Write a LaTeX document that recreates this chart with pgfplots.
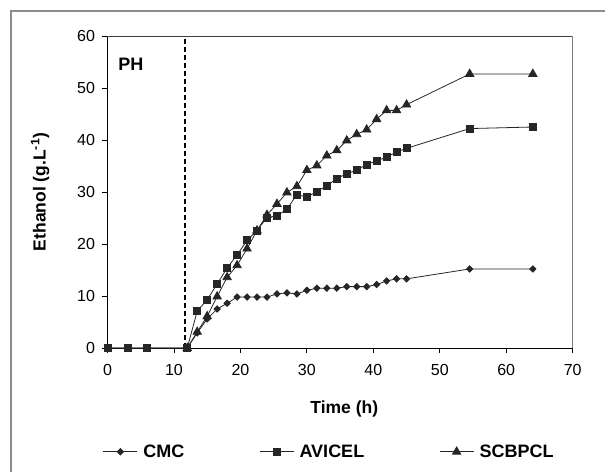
\documentclass[border=0pt]{standalone}
\usepackage{fontspec}
\setmainfont{Liberation Sans}
\usepackage{pgfplots}
\usepackage{pgfplotstable}
\pgfplotsset{compat=1.18}

\pgfplotstableread{
t    y
0    0
3    0
6    0
12   0
13.5 2.9
15   5.6
16.5 7.5
18   8.6
19.5 9.8
21   9.8
22.5 9.8
24   9.8
25.5 10.4
27   10.6
28.5 10.4
30   11.1
31.5 11.5
33   11.5
34.5 11.5
36   11.8
37.5 11.8
39   11.8
40.5 12.2
42   12.9
43.5 13.3
45   13.3
54.5 15.2
64   15.2
}\cmc

\pgfplotstableread{
t    y
0    0
3    0
6    0
12   0
13.5 7.1
15   9.3
16.5 12.3
18   15.4
19.5 17.9
21   20.7
22.5 22.6
24   25.1
25.5 25.4
27   26.7
28.5 29.5
30   29.0
31.5 30.1
33   31.2
34.5 32.6
36   33.5
37.5 34.2
39   35.3
40.5 36.0
42   36.7
43.5 37.7
45   38.4
54.5 42.2
64   42.5
}\avicel

\pgfplotstableread{
t    y
12   0
13.5 3.1
15   6.1
16.5 9.9
18   13.6
19.5 15.9
21   19.1
22.5 22.6
24   25.6
25.5 27.7
27   29.9
28.5 31.1
30   34.2
31.5 35.1
33   37.0
34.5 38.0
36   39.9
37.5 41.1
39   42.0
40.5 44.0
42   45.7
43.5 45.7
45   46.8
54.5 52.7
64   52.7
}\scb

\begin{document}
\begin{tikzpicture}[x=1pt,y=1pt]
\begin{axis}[
  at={(0,0)}, anchor=south west,
  scale only axis, width=465.2pt, height=312pt,
  xmin=0, xmax=70, ymin=0, ymax=60,
  xtick={0,10,...,70}, ytick={0,10,...,60},
  axis x line*=bottom, axis y line*=left,
  axis line style={black, line width=0.9pt},
  tick align=outside, major tick length=5pt,
  tick style={black, line width=0.8pt},
  /pgf/number format/assume math mode=true,
  tick label style={font=\fontsize{16}{19}\selectfont},
  xticklabel style={yshift=-8.2pt},
  yticklabel style={xshift=-4pt},
  xlabel={\bfseries Time (h)},
  ylabel={\bfseries Ethanol (g.L\textsuperscript{-1})},
  label style={font=\fontsize{17.5}{20}\selectfont},
  xlabel style={at={(axis description cs:0.509,-0.1955)}, anchor=center},
  ylabel style={at={(axis description cs:-0.145,0.5)}, anchor=center},
  legend columns=3,
  legend style={draw=none, fill=none, inner sep=0pt, outer sep=0pt,
    at={(axis description cs:-0.0097,-0.3325)}, anchor=west,
    font=\bfseries\fontsize{18}{21}\selectfont,
    nodes={inner sep=0pt, outer sep=0pt},
    /tikz/every odd column/.append style={column sep=5.5pt},
    /tikz/every even column/.append style={column sep=75pt},
    cells={anchor=west}},
  legend image code/.code={\draw[#1, mark repeat=2, mark phase=2] plot coordinates {(0pt,0pt) (17pt,0pt) (34pt,0pt)};},
  clip=false,
]
\draw[black, line width=2pt, dash pattern=on 5pt off 3pt] (axis cs:11.6,0) -- (axis cs:11.6,60);
\addplot[forget plot, black!85, line width=0.8pt, mark=diamond*, mark size=3.2pt, mark options={solid, xscale=1.3}] table[x=t,y=y] {\cmc};
\addplot[forget plot, black!85, line width=0.8pt, mark=triangle*, mark size=4.8pt, mark options={solid}] table[x=t,y=y] {\scb};
\addplot[forget plot, black!85, line width=0.8pt, mark=square*, mark size=3.5pt, mark options={solid}] table[x=t,y=y] {\avicel};
\addlegendimage{black!85, line width=0.8pt, mark=diamond*, mark size=3.2pt, mark options={solid, xscale=1.3}}
\addlegendimage{black!85, line width=0.8pt, mark=square*, mark size=3.5pt, mark options={solid}}
\addlegendimage{black!85, line width=0.8pt, mark=triangle*, mark size=4.8pt, mark options={solid}}
\legend{CMC,AVICEL,SCBPCL}
\node[anchor=west, font=\bfseries\fontsize{18}{21}\selectfont, inner sep=0pt] at (axis cs:1.6,54.6) {PH};
\draw[black!75, line width=0.9pt] (rel axis cs:0,1) -- (rel axis cs:1,1);
\draw[black!50, line width=0.9pt] (rel axis cs:1,1) -- (rel axis cs:1,0);
\end{axis}
\draw[black!45, line width=2pt] (-96.5,-124) -- (-96.5,337) -- (497.5,337);
\pgfresetboundingbox
\useasboundingbox (-107.5,-124) rectangle (497.5,348);
\end{tikzpicture}
\end{document}
